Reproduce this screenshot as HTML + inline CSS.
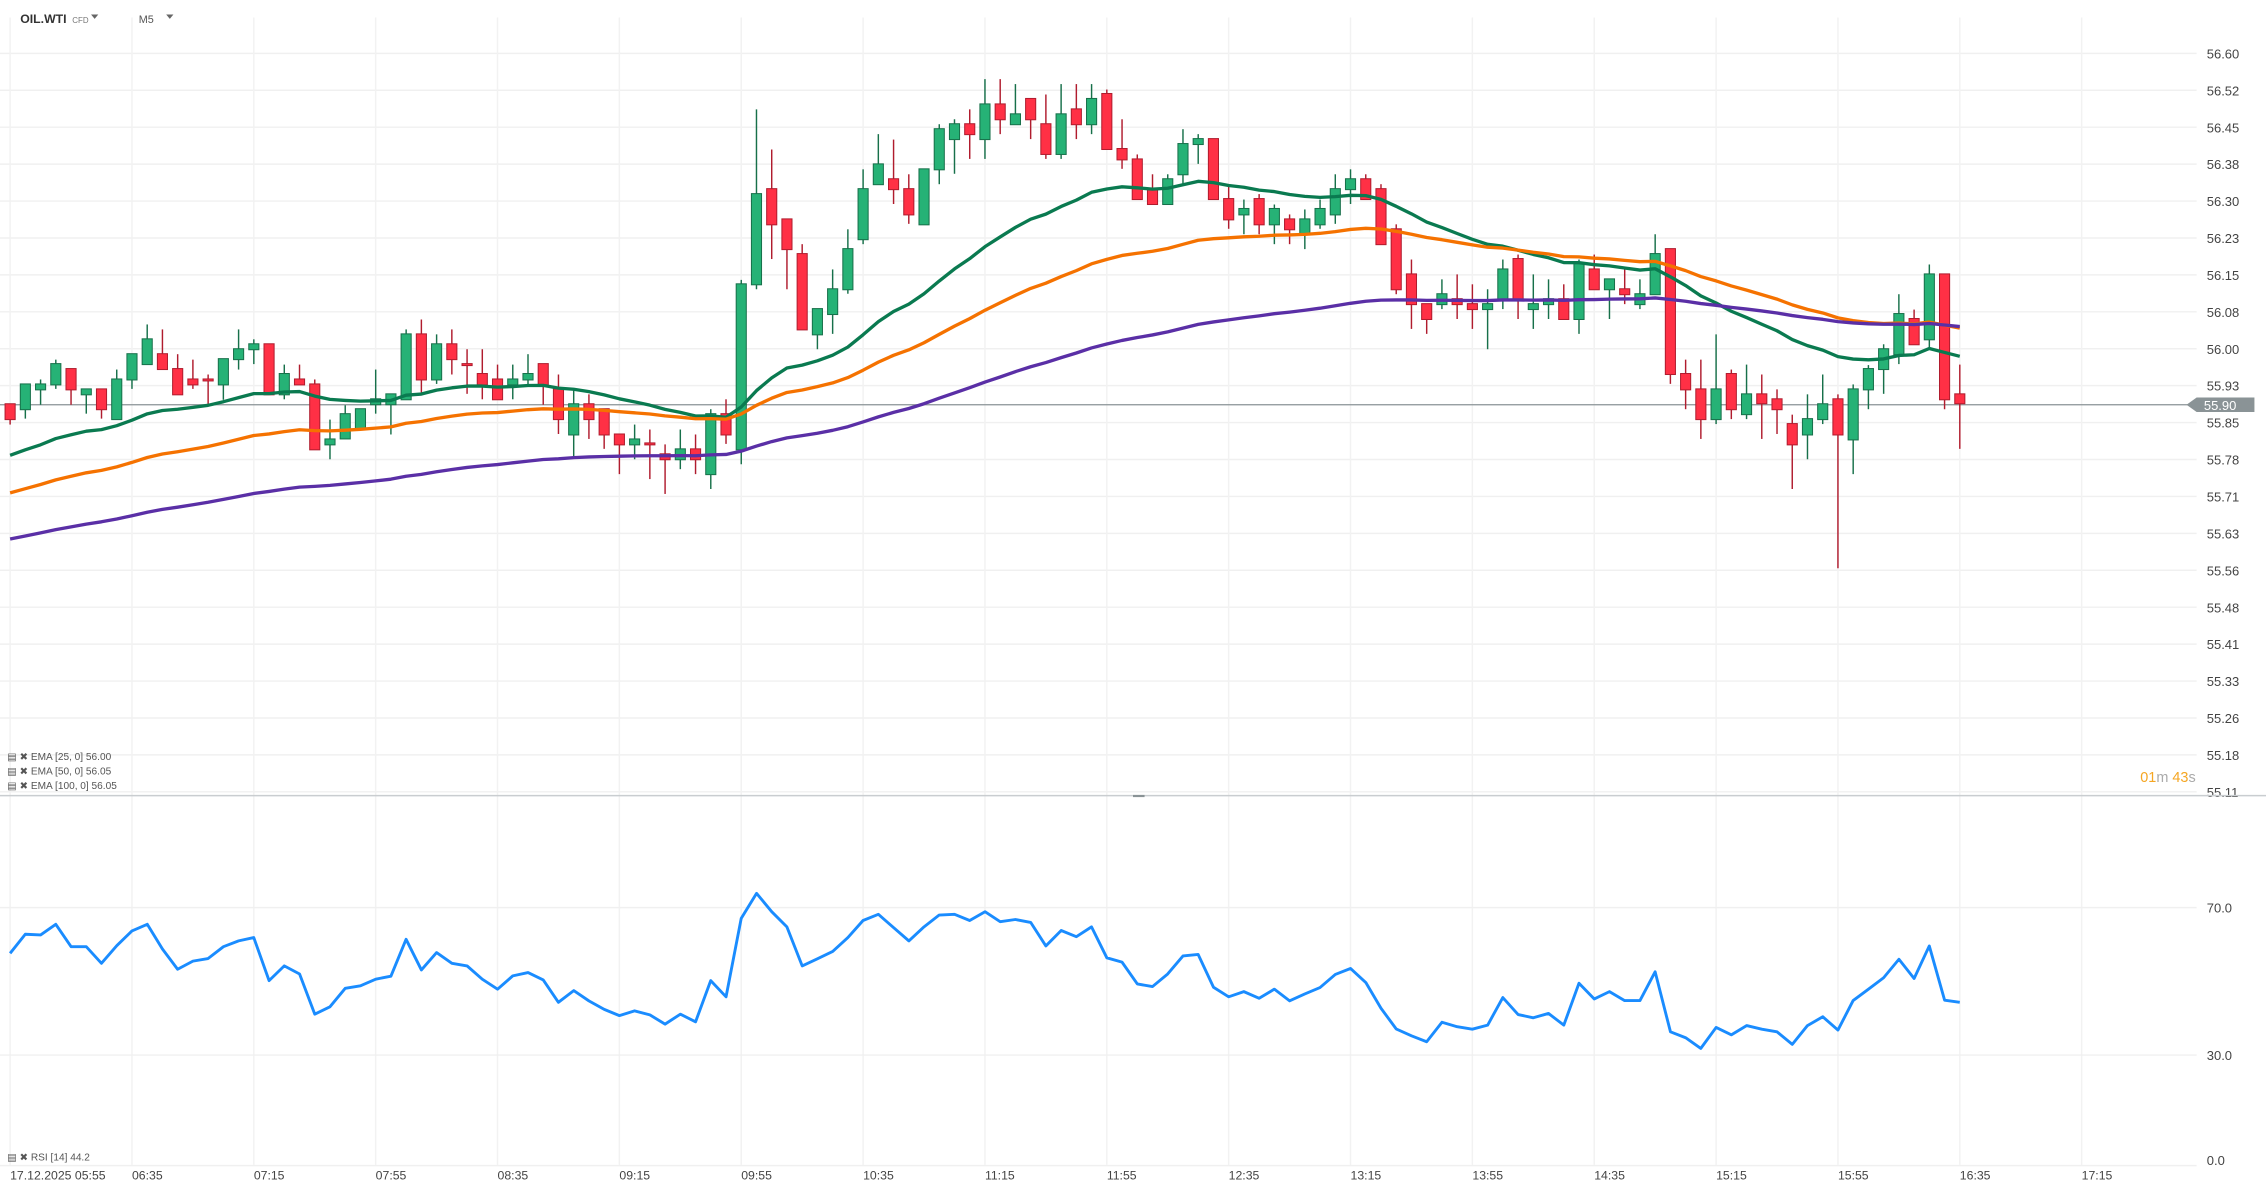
<!DOCTYPE html>
<html><head><meta charset="utf-8">
<style>
html,body{margin:0;padding:0;background:#fff;}
svg{display:block;font-family:"Liberation Sans",sans-serif;}
</style></head>
<body>
<svg id="chart" width="2266" height="1191" viewBox="0 0 1568 824" xmlns="http://www.w3.org/2000/svg">
  <rect x="0" y="0" width="1568" height="824" fill="#ffffff"/>
  <g id="grid"></g>
  <g id="candles"></g>
  <g id="emas"></g>
  <g id="rsi"></g>
  <g id="axes"></g>
  <line x1="0" y1="550.5" x2="1568" y2="550.5" stroke="#c9cdd0" stroke-width="1"/>
  <rect x="784" y="550" width="8" height="1.5" fill="#8a9396"/>
  <g>
    <text x="14" y="16" font-size="8.5" font-weight="bold" fill="#333">OIL.WTI</text>
    <text x="50" y="16" font-size="5.5" fill="#777">CFD</text>
    <path d="M63 10 L68 10 L65.5 13 Z" fill="#666"/>
  </g>
  <g>
    <text x="96" y="16" font-size="7.5" fill="#555">M5</text>
    <path d="M115 10 L120 10 L117.5 13 Z" fill="#666"/>
  </g>
  <g font-size="7" fill="#555">
    <text x="5" y="526">▤ ✖ EMA [25, 0] 56.00</text>
    <text x="5" y="536">▤ ✖ EMA [50, 0] 56.05</text>
    <text x="5" y="546">▤ ✖ EMA [100, 0] 56.05</text>
  </g>
  <text x="5" y="803" font-size="7" fill="#555">▤ ✖ RSI [14] 44.2</text>
  <text x="1481" y="541" font-size="10"><tspan fill="#f5a623">01</tspan><tspan fill="#aaa">m </tspan><tspan fill="#f5a623">43</tspan><tspan fill="#aaa">s</tspan></text>
</svg>
<script>
const opens=[55.902,55.890,55.930,55.940,55.973,55.920,55.932,55.870,55.950,55.981,56.003,55.973,55.952,55.952,55.940,55.991,56.011,56.023,55.920,55.952,55.942,55.819,55.831,55.852,55.900,55.900,55.910,56.043,55.950,56.023,55.983,55.963,55.952,55.940,55.950,55.983,55.932,55.839,55.902,55.892,55.841,55.819,55.823,55.801,55.789,55.811,55.759,55.882,55.809,56.142,56.336,56.275,56.205,56.041,56.082,56.132,56.233,56.344,56.356,56.336,56.263,56.374,56.435,56.467,56.435,56.507,56.465,56.518,56.467,56.405,56.497,56.465,56.528,56.417,56.396,56.334,56.304,56.364,56.425,56.437,56.316,56.283,56.316,56.263,56.275,56.245,56.263,56.283,56.334,56.356,56.336,56.255,56.164,56.104,56.102,56.114,56.104,56.092,56.112,56.195,56.092,56.102,56.114,56.072,56.174,56.132,56.134,56.102,56.122,56.215,55.963,55.932,55.870,55.963,55.880,55.922,55.912,55.862,55.839,55.870,55.912,55.829,55.930,55.971,56.001,56.074,56.031,56.164,55.922];
const highs=[55.902,55.942,55.951,55.991,55.973,55.932,55.932,55.971,56.003,56.062,56.052,56.002,55.991,55.961,55.993,56.052,56.032,56.023,55.981,55.981,55.951,55.870,55.899,55.892,55.971,55.922,56.052,56.072,56.042,56.052,56.012,56.012,55.981,55.981,56.002,55.983,55.961,55.932,55.921,55.892,55.841,55.860,55.850,55.820,55.850,55.840,55.891,55.911,56.152,56.496,56.415,56.275,56.224,56.094,56.173,56.254,56.375,56.446,56.435,56.365,56.376,56.466,56.476,56.496,56.557,56.557,56.547,56.518,56.526,56.547,56.547,56.547,56.536,56.476,56.405,56.365,56.365,56.456,56.446,56.437,56.344,56.314,56.325,56.304,56.284,56.294,56.314,56.365,56.375,56.365,56.345,56.264,56.193,56.104,56.153,56.163,56.143,56.133,56.193,56.203,56.163,56.153,56.143,56.193,56.203,56.154,56.173,56.153,56.244,56.215,55.991,55.991,56.042,55.971,55.981,55.961,55.931,55.880,55.921,55.961,55.921,55.941,55.980,56.022,56.123,56.092,56.183,56.164,55.981];
const lows=[55.860,55.872,55.900,55.932,55.900,55.882,55.872,55.870,55.932,55.981,55.971,55.920,55.932,55.900,55.910,55.971,55.982,55.920,55.911,55.940,55.809,55.790,55.831,55.852,55.882,55.840,55.910,55.922,55.942,55.961,55.922,55.911,55.910,55.911,55.940,55.900,55.841,55.794,55.831,55.811,55.760,55.790,55.750,55.720,55.770,55.760,55.730,55.821,55.780,56.133,56.194,56.133,56.051,56.012,56.043,56.124,56.224,56.344,56.305,56.265,56.263,56.345,56.366,56.396,56.396,56.446,56.465,56.436,56.396,56.396,56.436,56.446,56.415,56.376,56.314,56.304,56.304,56.345,56.386,56.314,56.255,56.244,56.244,56.224,56.224,56.214,56.255,56.265,56.305,56.314,56.223,56.123,56.053,56.043,56.093,56.073,56.053,56.012,56.093,56.073,56.053,56.073,56.072,56.043,56.132,56.073,56.103,56.093,56.122,55.942,55.891,55.831,55.861,55.871,55.871,55.831,55.841,55.730,55.790,55.861,55.570,55.760,55.891,55.922,55.982,56.021,56.016,55.891,55.811];
const closes=[55.870,55.942,55.942,55.983,55.930,55.932,55.890,55.952,56.003,56.033,55.971,55.920,55.940,55.948,55.993,56.013,56.023,55.920,55.963,55.940,55.809,55.831,55.882,55.892,55.912,55.922,56.043,55.950,56.023,55.991,55.979,55.940,55.910,55.952,55.963,55.940,55.870,55.902,55.870,55.839,55.819,55.831,55.819,55.789,55.811,55.789,55.882,55.839,56.144,56.326,56.263,56.213,56.051,56.094,56.134,56.215,56.336,56.386,56.334,56.283,56.376,56.457,56.467,56.445,56.507,56.475,56.487,56.475,56.405,56.487,56.465,56.518,56.415,56.394,56.314,56.304,56.356,56.427,56.437,56.314,56.273,56.296,56.263,56.296,56.253,56.275,56.296,56.336,56.356,56.314,56.223,56.132,56.102,56.072,56.124,56.102,56.092,56.104,56.174,56.112,56.104,56.114,56.072,56.185,56.132,56.154,56.122,56.124,56.205,55.961,55.930,55.870,55.932,55.890,55.922,55.902,55.890,55.819,55.872,55.902,55.839,55.932,55.973,56.013,56.084,56.021,56.164,55.910,55.902];
const rsiValues=[57.6,62.8,62.6,65.5,59.4,59.4,54.9,59.7,63.7,65.5,58.8,53.3,55.5,56.2,59.4,61.0,61.9,50.2,54.2,52.0,41.1,43.1,48.1,48.8,50.6,51.4,61.4,53.1,57.8,54.9,54.2,50.6,47.9,51.5,52.4,50.4,44.3,47.5,44.7,42.4,40.7,42.0,40.9,38.4,41.1,39.0,50.2,45.8,67.1,73.9,68.9,64.8,54.2,56.1,58.1,61.9,66.5,68.2,64.6,61.0,64.8,68.0,68.2,66.5,68.9,66.2,66.8,66.0,59.6,63.8,62.1,64.8,56.4,55.2,49.3,48.6,52.0,56.9,57.3,48.4,45.8,47.2,45.4,47.9,44.7,46.6,48.3,51.9,53.5,49.7,42.7,37.1,35.2,33.6,38.9,37.7,37.0,38.1,45.6,41.0,40.1,41.3,38.1,49.5,45.2,47.2,44.8,44.8,52.6,36.3,34.7,31.8,37.5,35.5,38.0,37.0,36.3,32.9,38.0,40.4,36.8,44.8,47.9,51.0,56.0,50.8,59.6,44.9,44.3];
const emaPeriods=[25,50,100];
const emaSeeds=[55.798,55.722,55.629];
const priceTickLabels=['56.60','56.52','56.45','56.38','56.30','56.23','56.15','56.08','56.00','55.93','55.85','55.78','55.71','55.63','55.56','55.48','55.41','55.33','55.26','55.18','55.11'];
const priceTickStart=56.609;
const priceTickStep=0.0745;
const rsiTickValues=[70,30,0];
const rsiTickLabels=['70.0','30.0','0.0'];
const timeLabels=['06:35','07:15','07:55','08:35','09:15','09:55','10:35','11:15','11:55','12:35','13:15','13:55','14:35','15:15','15:55','16:35','17:15'];
const lastPrice=55.90;

const NS='http://www.w3.org/2000/svg';
const xOf=i=>7+i*10.54;
const yOf=p=>280-(p-55.90)*342.95;
const rsiY=v=>730-(v-30)*2.55;
function mk(tag,attrs,parent){const e=document.createElementNS(NS,tag);for(const k in attrs)e.setAttribute(k,attrs[k]);parent.appendChild(e);return e;}
const grid=document.getElementById('grid'),axes=document.getElementById('axes');

priceTickLabels.forEach((lab,i)=>{
  const y=yOf(priceTickStart-i*priceTickStep);
  const l=mk('line',{x1:0,x2:1520,y1:y,y2:y,stroke:'#f0f0f0','stroke-width':1},grid);
  
  
  const t=mk('text',{x:1527,y:y+3.5,'font-size':9,fill:'#444'},axes);
  t.textContent=lab;
  
  
});
for(let k=0;k<=17;k++){
  const x=xOf(k*8);
  const l=mk('line',{x1:x,x2:x,y1:12,y2:806,stroke:'#f2f2f2','stroke-width':1},grid);
  
  
}
timeLabels.forEach((lab,k)=>{
  const t=mk('text',{x:xOf((k+1)*8),y:816,'font-size':8.5,fill:'#444'},axes);
  t.textContent=lab;
  
  
});
{const t=mk('text',{x:7,y:816,'font-size':8.5,fill:'#444'},axes);t.textContent='17.12.2025 05:55';

}
rsiTickValues.forEach((v,i)=>{
  const y=rsiY(v);
  const l=mk('line',{x1:0,x2:1520,y1:y,y2:y,stroke:'#f0f0f0','stroke-width':1},grid);
  
  
  const t=mk('text',{x:1527,y:Math.min(y+3.5,806),'font-size':9,fill:'#444'},axes);
  t.textContent=rsiTickLabels[i];
  
  
});
{const y=yOf(lastPrice);
const l=mk('line',{x1:0,x2:1520,y1:y,y2:y,stroke:'#8a9396','stroke-width':0.8},grid);


const b=mk('path',{d:`M1513 ${y} L1520 ${y-5} L1560 ${y-5} L1560 ${y+5} L1520 ${y+5} Z`,fill:'#8a9396'},axes);


const t=mk('text',{x:1525,y:y+3.5,'font-size':9,fill:'#fff'},axes);t.textContent=lastPrice.toFixed(2);

}

const cg=document.getElementById('candles');
closes.forEach((c,i)=>{
  const o=opens[i],up=c>=o,x=xOf(i);
  const g=mk('g',{},cg);
  
  
  const wc=up?'#17704a':'#b01c2e';
  mk('line',{x1:x,x2:x,y1:yOf(highs[i]),y2:yOf(lows[i]),stroke:wc,'stroke-width':1},g);
  const top=yOf(Math.max(o,c)),bot=yOf(Math.min(o,c));
  mk('rect',{x:x-3.5,y:top,width:7,height:Math.max(bot-top,1.2),fill:up?'#26b276':'#ff3045',stroke:wc,'stroke-width':0.7},g);
});

const eg=document.getElementById('emas');
const emaColors=['#0a7a50','#f57200','#5a2fa6'];
emaPeriods.forEach((p,k)=>{
  const a=2/(p+1);let e=emaSeeds[k];const pts=[];
  closes.forEach((c,i)=>{if(i>0)e=e+a*(c-e);pts.push(xOf(i).toFixed(1)+','+yOf(e).toFixed(1));});
  const pl=mk('polyline',{points:pts.join(' '),fill:'none',stroke:emaColors[k],'stroke-width':2.3,'stroke-linejoin':'round'},eg);
  
  
});

{const pts=rsiValues.map((v,i)=>xOf(i).toFixed(1)+','+rsiY(v).toFixed(1));
const pl=mk('polyline',{points:pts.join(' '),fill:'none',stroke:'#1a8cff','stroke-width':2,'stroke-linejoin':'round'},document.getElementById('rsi'));

}
</script>
</body></html>
